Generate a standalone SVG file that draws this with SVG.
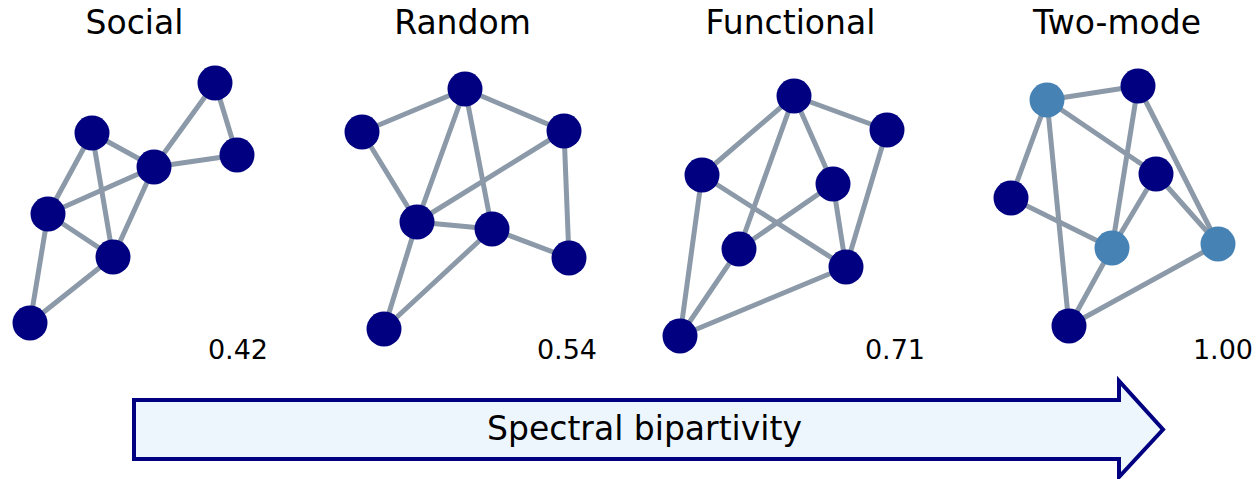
<svg xmlns="http://www.w3.org/2000/svg" width="1257" height="479" viewBox="0 0 1257 479">
<style>
.t{font-family:"DejaVu Sans",sans-serif;font-size:33px;fill:#000;text-anchor:middle}
.v{font-family:"DejaVu Sans",sans-serif;font-size:27px;fill:#000;text-anchor:end}
.e line{stroke:#8B99A8;stroke-width:5;stroke-linecap:round}
.n{fill:#000080}
.m{fill:#4682B4}
</style>
<rect width="1257" height="479" fill="#fff"/>
<g id="titles">
<text class="t" x="134.5" y="34">Social</text>
<text class="t" x="462.5" y="34">Random</text>
<text class="t" x="790.5" y="34">Functional</text>
<text class="t" x="1117" y="34">Two-mode</text>
</g>
<g id="connectors" class="e">
<!-- Social -->
<line x1="215" y1="83" x2="154" y2="167"/>
<line x1="215" y1="83" x2="237" y2="155"/>
<line x1="237" y1="155" x2="154" y2="167"/>
<line x1="92" y1="133" x2="154" y2="167"/>
<line x1="92" y1="133" x2="48" y2="214"/>
<line x1="92" y1="133" x2="113" y2="257"/>
<line x1="48" y1="214" x2="154" y2="167"/>
<line x1="48" y1="214" x2="113" y2="257"/>
<line x1="113" y1="257" x2="154" y2="167"/>
<line x1="48" y1="214" x2="30" y2="323"/>
<line x1="30" y1="323" x2="113" y2="257"/>
<!-- Random -->
<line x1="465" y1="89" x2="362" y2="132"/>
<line x1="465" y1="89" x2="564" y2="131"/>
<line x1="465" y1="89" x2="417" y2="222"/>
<line x1="465" y1="89" x2="492" y2="229"/>
<line x1="362" y1="132" x2="417" y2="222"/>
<line x1="564" y1="131" x2="417" y2="222"/>
<line x1="564" y1="131" x2="569" y2="258"/>
<line x1="417" y1="222" x2="492" y2="229"/>
<line x1="492" y1="229" x2="569" y2="258"/>
<line x1="417" y1="222" x2="384" y2="329"/>
<line x1="492" y1="229" x2="384" y2="329"/>
<!-- Functional -->
<line x1="794" y1="96" x2="702" y2="175"/>
<line x1="794" y1="96" x2="887" y2="130"/>
<line x1="794" y1="96" x2="739" y2="249"/>
<line x1="794" y1="96" x2="833" y2="184"/>
<line x1="702" y1="175" x2="846" y2="267"/>
<line x1="702" y1="175" x2="680" y2="336"/>
<line x1="833" y1="184" x2="739" y2="249"/>
<line x1="833" y1="184" x2="846" y2="267"/>
<line x1="887" y1="130" x2="846" y2="267"/>
<line x1="739" y1="249" x2="680" y2="336"/>
<line x1="846" y1="267" x2="680" y2="336"/>
<!-- Two-mode -->
<line x1="1047" y1="100" x2="1138" y2="86"/>
<line x1="1047" y1="100" x2="1156" y2="174"/>
<line x1="1047" y1="100" x2="1011" y2="198"/>
<line x1="1047" y1="100" x2="1069" y2="326"/>
<line x1="1138" y1="86" x2="1112" y2="248"/>
<line x1="1138" y1="86" x2="1218" y2="244"/>
<line x1="1156" y1="174" x2="1112" y2="248"/>
<line x1="1156" y1="174" x2="1218" y2="244"/>
<line x1="1011" y1="198" x2="1112" y2="248"/>
<line x1="1112" y1="248" x2="1069" y2="326"/>
<line x1="1218" y1="244" x2="1069" y2="326"/>
</g>
<g id="social">
<circle class="n" cx="215" cy="83" r="17.5"/>
<circle class="n" cx="237" cy="155" r="17.5"/>
<circle class="n" cx="92" cy="133" r="17.5"/>
<circle class="n" cx="154" cy="167" r="17.5"/>
<circle class="n" cx="48" cy="214" r="17.5"/>
<circle class="n" cx="113" cy="257" r="17.5"/>
<circle class="n" cx="30" cy="323" r="17.5"/>
<text class="v" x="268" y="359">0.42</text>
</g>
<g id="random">
<circle class="n" cx="465" cy="89" r="17.5"/>
<circle class="n" cx="362" cy="132" r="17.5"/>
<circle class="n" cx="564" cy="131" r="17.5"/>
<circle class="n" cx="417" cy="222" r="17.5"/>
<circle class="n" cx="492" cy="229" r="17.5"/>
<circle class="n" cx="569" cy="258" r="17.5"/>
<circle class="n" cx="384" cy="329" r="17.5"/>
<text class="v" x="597" y="359">0.54</text>
</g>
<g id="functional">
<circle class="n" cx="794" cy="96" r="17.5"/>
<circle class="n" cx="887" cy="130" r="17.5"/>
<circle class="n" cx="702" cy="175" r="17.5"/>
<circle class="n" cx="833" cy="184" r="17.5"/>
<circle class="n" cx="739" cy="249" r="17.5"/>
<circle class="n" cx="846" cy="267" r="17.5"/>
<circle class="n" cx="680" cy="336" r="17.5"/>
<text class="v" x="925" y="359">0.71</text>
</g>
<g id="two-mode">
<circle class="m" cx="1047" cy="100" r="17.5"/>
<circle class="n" cx="1138" cy="86" r="17.5"/>
<circle class="n" cx="1156" cy="174" r="17.5"/>
<circle class="n" cx="1011" cy="198" r="17.5"/>
<circle class="m" cx="1112" cy="248" r="17.5"/>
<circle class="m" cx="1218" cy="244" r="17.5"/>
<circle class="n" cx="1069" cy="326" r="17.5"/>
<text class="v" x="1253" y="359">1.00</text>
</g>
<g id="arrow">
<polygon points="134,400 1119,400 1119,381 1163,429.5 1119,477 1119,459 134,459" fill="#EEF6FD" stroke="#000080" stroke-width="4"/>
<text class="t" x="644.5" y="440">Spectral bipartivity</text>
</g>
</svg>
